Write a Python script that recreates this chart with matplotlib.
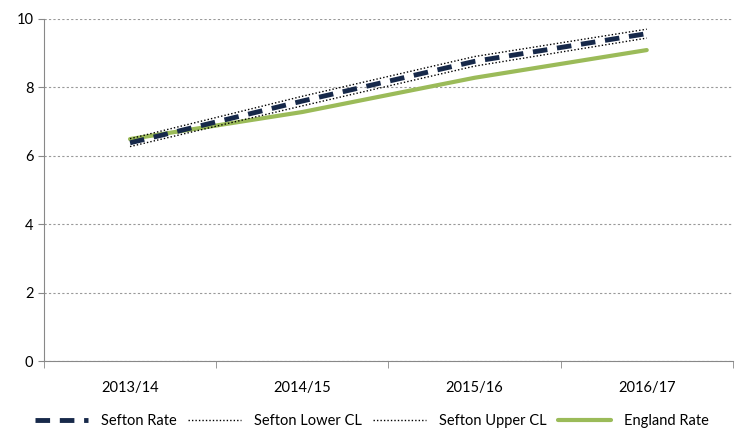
import numpy as np
import matplotlib.pyplot as plt

plt.rcParams['font.family'] = ['Lato', 'DejaVu Sans']

years = ['2013/14', '2014/15', '2015/16', '2016/17']
sefton_rate = [6.38, 7.60, 8.76, 9.57]
sefton_lower = [6.27, 7.46, 8.62, 9.44]
sefton_upper = [6.50, 7.74, 8.90, 9.70]
england_rate = [6.49, 7.28, 8.28, 9.09]

fig = plt.figure(figsize=(7.44, 4.30), dpi=100)
ax = fig.add_axes([0.059, 0.160, 0.926, 0.796])

x = np.arange(len(years))
ax.plot(x, sefton_rate, color='#17294a', lw=3.5, ls=(0, (3, 2)), label='Sefton Rate', zorder=3)
ax.plot(x, sefton_lower, color='black', lw=1.0, ls=(0, (1, 1.5)), label='Sefton Lower CL', zorder=4)
ax.plot(x, sefton_upper, color='black', lw=1.0, ls=(0, (1, 1.5)), label='Sefton Upper CL', zorder=4)
ax.plot(x, england_rate, color='#9bbb59', lw=3.0, solid_capstyle='round', label='England Rate', zorder=2)

ax.set_xlim(-0.5, 3.5)
ax.set_ylim(0, 10)
ax.set_yticks([0, 2, 4, 6, 8, 10])
ax.set_xticks(x)
ax.set_xticklabels(years)
ax.set_xticks(np.arange(-0.5, 4, 1), minor=True)
ax.tick_params(axis='x', which='major', length=0, pad=14, labelsize=10.5)
ax.tick_params(axis='x', which='minor', length=5, color='#888888')
ax.tick_params(axis='y', length=4, color='#888888', labelsize=10.5)

ax.yaxis.grid(True, color='#999999', ls=(0, (2, 2)), lw=0.8)
for s in ['top', 'right']:
    ax.spines[s].set_visible(False)
ax.spines['left'].set_color('#888888')
ax.spines['bottom'].set_color('#888888')

fig.legend(loc='lower center', bbox_to_anchor=(0.5, -0.025), ncol=4, frameon=False,
           fontsize=10.5, handlelength=3.6, columnspacing=0.8, handletextpad=0.9)

fig.savefig('out.png', dpi=100)
